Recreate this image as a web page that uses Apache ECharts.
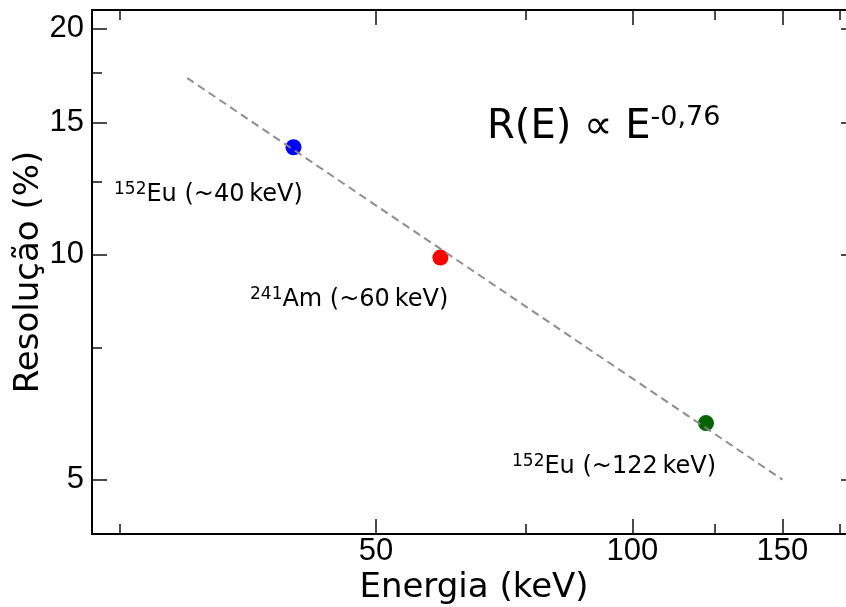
<!DOCTYPE html>
<html>
<head>
<meta charset="utf-8">
<script src="https://cdn.jsdelivr.net/npm/echarts@6/dist/echarts.min.js"></script>
<style>
  html, body { margin: 0; padding: 0; background: #fff; }
  #chart { width: 846px; height: 607px; }
</style>
</head>
<body>
<div id="chart"></div>
<script>
// dados (escala log-log)
var xRange = [23.2, 183];
var yRange = [4.23, 21.2];
var xTickMajor = [50, 100, 150];
var xTickMinor = [25, 75, 125, 175];
var yTickMajor = [5, 10, 15, 20];
var yTickMinor = [7.5, 12.5, 17.5];

var energias = [40, 59.5, 122];
var resolucoes = [13.9, 9.9, 5.95];
var cores = ['#0000ff', '#ff0000', '#006400'];

// reta de ajuste R(E) ∝ E^-0,76
var ajusteE = [30, 150];
var ajusteR = [17.2, 5.0];

var log = Math.log10;
var fmt = function (v) { return Math.round(Math.pow(10, v)); };

function eixo(pos, ticks, len, label, range, extra) {
  var ax = {
    type: 'value',
    position: pos,
    min: log(range[0]),
    max: log(range[1]),
    axisLine: { show: true, onZero: false, lineStyle: { color: '#000', width: 2 } },
    axisTick: {
      show: true, inside: true, length: len,
      customValues: ticks.map(log),
      lineStyle: { color: '#111', width: 1.5 }
    },
    axisLabel: {
      show: label,
      customValues: ticks.map(log),
      formatter: fmt,
      color: '#000',
      fontFamily: 'Liberation Sans',
      fontSize: 31,
      margin: pos === 'bottom' ? 2 : 8
    },
    splitLine: { show: false }
  };
  for (var k in extra) ax[k] = extra[k];
  return ax;
}

var chart = echarts.init(document.getElementById('chart'));

var option = {
  animation: false,
  backgroundColor: '#fff',
  grid: { left: 92, top: 10, width: 764, height: 524, outerBoundsMode: 'none', containLabel: false },
  xAxis: [
    eixo('bottom', xTickMajor, 15, true, xRange, {
      name: 'Energia (keV)', nameLocation: 'middle', nameGap: 37, nameMoveOverlap: false,
      nameTextStyle: { fontFamily: 'DejaVu Sans', fontSize: 34, color: '#000' }
    }),
    eixo('bottom', xTickMinor, 10, false, xRange, {}),
    eixo('top', xTickMajor, 15, false, xRange, {}),
    eixo('top', xTickMinor, 10, false, xRange, {})
  ],
  yAxis: [
    eixo('left', yTickMajor, 15, true, yRange, {
      name: 'Resolução (%)', nameLocation: 'middle', nameGap: 46, nameRotate: 90, nameMoveOverlap: false,
      nameTextStyle: { fontFamily: 'DejaVu Sans', fontSize: 34, color: '#000' }
    }),
    eixo('left', yTickMinor, 10, false, yRange, {}),
    eixo('right', yTickMajor, 15, false, yRange, {}),
    eixo('right', yTickMinor, 10, false, yRange, {})
  ],
  series: [
    {
      type: 'scatter',
      xAxisIndex: 0, yAxisIndex: 0,
      symbolSize: 16,
      z: 2,
      data: energias.map(function (e, i) {
        return { value: [log(e), log(resolucoes[i])], itemStyle: { color: cores[i], opacity: 1 } };
      })
    },
    {
      type: 'line',
      xAxisIndex: 0, yAxisIndex: 0,
      symbol: 'none',
      z: 3,
      lineStyle: { color: '#888888', width: 2, type: [8, 5], opacity: 0.95 },
      data: ajusteE.map(function (e, i) { return [log(e), log(ajusteR[i])]; })
    }
  ],
  graphic: [
    {
      type: 'text', x: 114, y: 194,
      style: {
        text: '{s|152}{n|Eu (~40\u2009keV)}',
        textVerticalAlign: 'middle',
        rich: {
          s: { fontFamily: 'DejaVu Sans', fontSize: 17, fill: '#000', verticalAlign: 'top', lineHeight: 26 },
          n: { fontFamily: 'DejaVu Sans', fontSize: 24, fill: '#000', verticalAlign: 'bottom', lineHeight: 26 }
        }
      }
    },
    {
      type: 'text', x: 250, y: 299,
      style: {
        text: '{s|241}{n|Am (~60\u2009keV)}',
        textVerticalAlign: 'middle',
        rich: {
          s: { fontFamily: 'DejaVu Sans', fontSize: 17, fill: '#000', verticalAlign: 'top', lineHeight: 26 },
          n: { fontFamily: 'DejaVu Sans', fontSize: 24, fill: '#000', verticalAlign: 'bottom', lineHeight: 26 }
        }
      }
    },
    {
      type: 'text', x: 512, y: 466,
      style: {
        text: '{s|152}{n|Eu (~122\u2009keV)}',
        textVerticalAlign: 'middle',
        rich: {
          s: { fontFamily: 'DejaVu Sans', fontSize: 17, fill: '#000', verticalAlign: 'top', lineHeight: 26 },
          n: { fontFamily: 'DejaVu Sans', fontSize: 24, fill: '#000', verticalAlign: 'bottom', lineHeight: 26 }
        }
      }
    },
    {
      type: 'text', x: 487, y: 126,
      style: {
        text: '{n|R(E) \u221D E}{s|-0,76}',
        textVerticalAlign: 'middle',
        rich: {
          n: { fontFamily: 'DejaVu Sans', fontSize: 40, fill: '#000', verticalAlign: 'bottom', lineHeight: 44 },
          s: { fontFamily: 'DejaVu Sans', fontSize: 27, fill: '#000', verticalAlign: 'top', lineHeight: 44 }
        }
      }
    }
  ]
};

option && chart.setOption(option);
</script>
</body>
</html>
